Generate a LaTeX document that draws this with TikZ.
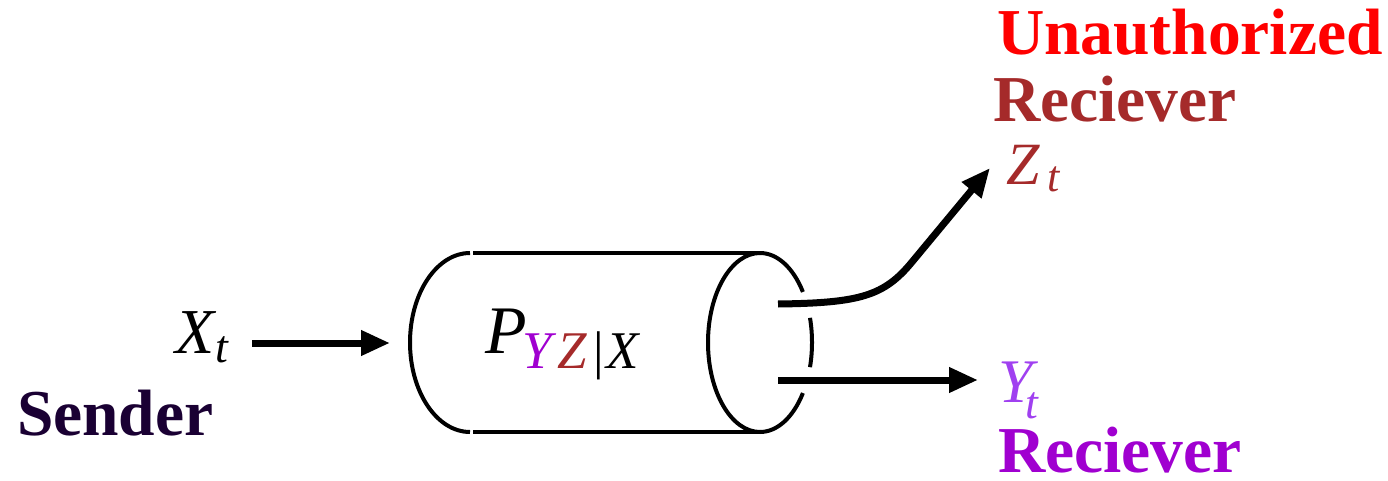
\documentclass[tikz,border=0pt]{standalone}
\usepackage{fontspec}
\setmainfont{Liberation Serif}
\usetikzlibrary{arrows.meta}
\definecolor{sendercol}{HTML}{1A0033}
\definecolor{recpurple}{HTML}{A000D0}
\definecolor{ytcol}{HTML}{A040F0}
\definecolor{zbrown}{HTML}{A52A2A}
\definecolor{unred}{HTML}{FF0000}
\tikzset{
  lbl/.style={anchor=base west, inner sep=0pt, outer sep=0pt},
  boldlbl/.style={lbl, font=\fontsize{65.5}{65.5}\selectfont\bfseries},
  cyl/.style={line width=4pt},
  arr/.style={line width=7pt, -{Triangle[length=29pt,width=24pt]}},
}
\begin{document}
\begin{tikzpicture}[x=1pt,y=-1pt]
\useasboundingbox (0,0) rectangle (1388,481);
% labels
\node[boldlbl, text=sendercol] (sender) at (17,435) {Sender};
\node[boldlbl, text=unred] (unauth) at (997,55) {Unauthorized};
\node[boldlbl, text=zbrown] (rec1) at (993,122) {Reciever};
\node[boldlbl, text=recpurple] (rec2) at (998,472) {Reciever};
% math labels
\node[lbl, font=\fontsize{64}{64}\selectfont\itshape] (xt) at (175,353)
  {X\kern1pt\raisebox{-9pt}{\fontsize{46}{46}\selectfont t}};
\node[lbl, font=\fontsize{60}{60}\selectfont\itshape, text=zbrown] (zt) at (1006,185)
  {Z\kern8pt\raisebox{-7pt}{\fontsize{44}{44}\selectfont t}};
\node[lbl, font=\fontsize{62}{62}\selectfont\itshape, text=ytcol] (yt) at (998,402)
  {Y\kern-7pt\raisebox{-16pt}{\fontsize{46}{46}\selectfont t}};
\node[lbl, font=\fontsize{68}{68}\selectfont\itshape] (pyzx) at (485,353)
  {P\kern-4pt\raisebox{-15pt}{\fontsize{53}{53}\selectfont\textcolor{recpurple}{Y}\kern5pt\textcolor{zbrown}{Z}\kern7pt{\upshape|}\kern2pt X}};
% cylinder
\coordinate (lc) at (470,342.5);
\coordinate (rc) at (760,342.5);
\draw[cyl] (473,253) -- (760,253);
\draw[cyl] (473,432) -- (760,432);
\draw[cyl] (470,432) arc[start angle=90,end angle=270,x radius=60,y radius=89.5];
\draw[cyl] (760,432) arc[start angle=90,end angle=270,x radius=52,y radius=89.5];
\draw[cyl] (760,253) arc[start angle=-90,end angle=-34.4,x radius=52,y radius=89.5];
\draw[cyl] (rc) ++(-16:52 and 89.5) arc[start angle=-16,end angle=16,x radius=52,y radius=89.5];
\draw[cyl] (rc) ++(34.4:52 and 89.5) arc[start angle=34.4,end angle=90,x radius=52,y radius=89.5];
% connectors
\coordinate (xs) at (252,343);
\coordinate (xe) at (390,343);
\coordinate (zs) at (778,304);
\coordinate (zm) at (912,262);
\coordinate (ze) at (990,168);
\coordinate (ys) at (778,380);
\coordinate (ye) at (978,380);
\draw[arr] (xs) -- (xe);
\draw[arr] (zs) .. controls (860,303) and (884,296) .. (zm) -- (ze);
\draw[arr] (ys) -- (ye);
\end{tikzpicture}
\end{document}
